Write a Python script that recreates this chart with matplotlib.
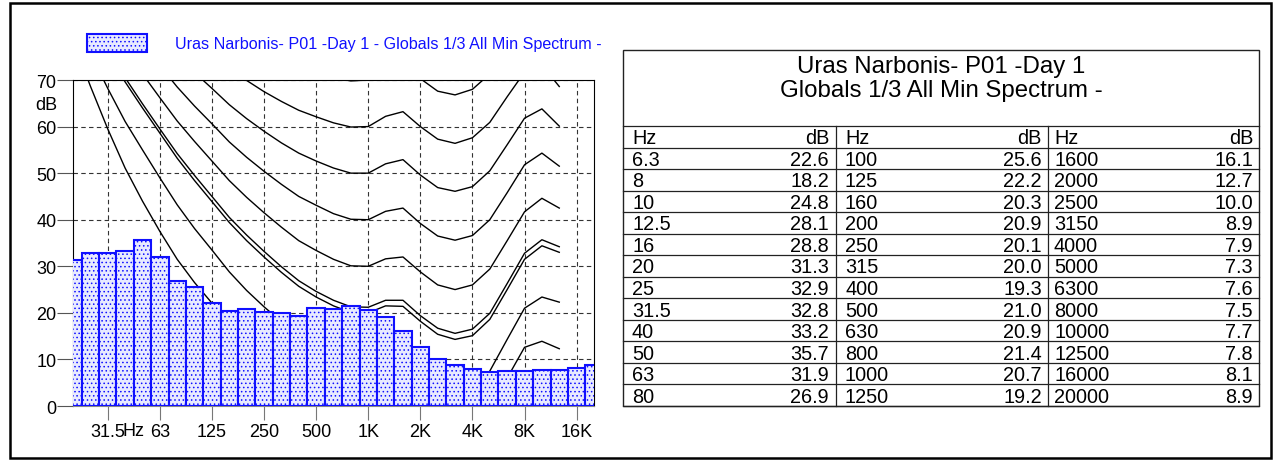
import matplotlib
matplotlib.use('Agg')
import matplotlib.pyplot as plt
from matplotlib.patches import Rectangle

plt.rcParams['font.family'] = ['Liberation Sans', 'DejaVu Sans']
plt.rcParams['hatch.linewidth'] = 0.6

W, H = 1277, 464

# 1/3 octave minimum spectrum
bands = ['6.3', '8', '10', '12.5', '16', '20', '25', '31.5', '40', '50', '63', '80',
         '100', '125', '160', '200', '250', '315', '400', '500', '630', '800', '1000', '1250',
         '1600', '2000', '2500', '3150', '4000', '5000', '6300', '8000', '10000', '12500', '16000', '20000']
levels = [22.6, 18.2, 24.8, 28.1, 28.8, 31.3, 32.9, 32.8, 33.2, 35.7, 31.9, 26.9,
          25.6, 22.2, 20.3, 20.9, 20.1, 20.0, 19.3, 21.0, 20.9, 21.4, 20.7, 19.2,
          16.1, 12.7, 10.0, 8.9, 7.9, 7.3, 7.6, 7.5, 7.7, 7.8, 8.1, 8.9]

# equal loudness contours, 20 Hz .. 12.5 kHz
threshold = [78.5, 68.7, 59.5, 51.1, 44.0, 37.5, 31.5, 26.5, 22.1, 17.9, 14.4, 11.4, 8.6, 6.2, 4.4,
             3.0, 2.2, 2.4, 3.5, 1.7, -1.3, -4.2, -6.0, -5.4, -1.5, 6.0, 12.6, 13.9, 12.3]
phon_10 = [83.8, 75.8, 68.2, 61.1, 55.0, 49.0, 43.2, 38.1, 33.5, 28.8, 24.8, 21.3, 18.1, 15.1, 13.0,
           11.2, 10.0, 10.0, 11.3, 10.4, 7.3, 4.5, 3.0, 3.8, 7.5, 14.3, 21.0, 23.4, 22.3]
phon_20 = [89.6, 82.7, 76.0, 69.6, 64.0, 58.6, 53.2, 48.4, 43.9, 39.4, 35.5, 32.0, 28.7, 25.7, 23.4,
           21.5, 20.1, 20.0, 21.5, 21.4, 18.2, 15.4, 14.3, 15.1, 18.6, 25.0, 31.5, 34.4, 33.0]
phon_spec = [90.2, 83.4, 76.8, 70.5, 64.9, 59.5, 54.2, 49.5, 45.0, 40.5, 36.7, 33.2, 29.9, 26.9, 24.6,
             22.7, 21.3, 21.2, 22.7, 22.7, 19.4, 16.7, 15.6, 16.5, 19.9, 26.3, 32.8, 35.7, 34.2]
phon_30 = [94.8, 88.5, 82.4, 76.5, 71.3, 66.2, 61.2, 56.8, 52.6, 48.4, 44.8, 41.5, 38.4, 35.5, 33.4,
           31.5, 30.1, 30.0, 31.6, 32.0, 28.8, 26.0, 25.0, 26.0, 29.4, 35.5, 41.7, 44.6, 42.5]
phon_40 = [99.9, 93.9, 88.2, 82.6, 77.8, 73.1, 68.5, 64.4, 60.6, 56.7, 53.4, 50.4, 47.6, 45.0, 43.1,
           41.3, 40.1, 40.0, 41.8, 42.5, 39.2, 36.5, 35.6, 36.6, 40.0, 45.8, 51.8, 54.3, 51.5]
phon_50 = [104.7, 99.1, 93.7, 88.5, 84.0, 79.6, 75.4, 71.6, 68.2, 64.7, 61.7, 59.0, 56.5, 54.3, 52.6,
           51.1, 50.0, 50.0, 52.0, 52.9, 49.6, 46.9, 46.1, 47.1, 50.5, 56.1, 61.8, 63.8, 60.1]
phon_60 = [109.5, 104.2, 99.1, 94.2, 90.0, 85.9, 82.1, 78.7, 75.6, 72.5, 69.9, 67.5, 65.4, 63.5, 62.1,
           60.8, 59.9, 60.0, 62.2, 63.2, 60.0, 57.3, 56.4, 57.6, 60.9, 66.4, 71.7, 73.2, 68.6]
phon_70 = [114.3, 109.2, 104.4, 99.8, 95.9, 92.2, 88.6, 85.6, 82.9, 80.2, 77.9, 75.9, 74.2, 72.6, 71.5,
           70.5, 69.8, 70.0, 72.3, 73.5, 70.3, 67.6, 66.8, 68.0, 71.3, 76.6, 81.5, 82.5, 77.0]
contours = [threshold, phon_10, phon_20, phon_spec, phon_30, phon_40, phon_50, phon_60, phon_70]

tick_bands = ['31.5', '63', '125', '250', '500', '1000', '2000', '4000', '8000', '16000']
tick_labels = ['31.5', '63', '125', '250', '500', '1K', '2K', '4K', '8K', '16K']

title = 'Uras Narbonis- P01 -Day 1'
subtitle = 'Globals 1/3 All Min Spectrum -'

bar_face = '#e8eaff'
bar_edge = '#1010ff'

fig = plt.figure(figsize=(W / 100, H / 100), dpi=100)

# spectrum chart, x in band index
ax = fig.add_axes([73 / W, 1 - 407 / H, (594 - 73) / W, (407 - 81) / H])
x = list(range(len(bands)))
ax.bar(x, levels, width=1.0, facecolor=bar_face, edgecolor=bar_edge,
       linewidth=1.5, hatch='....', zorder=3)
first = bands.index('20')
xc = list(range(first, first + len(threshold)))
for c in contours:
    ax.plot(xc, c, color='black', lw=1.0, zorder=2)
ax.set_xlim(bands.index('20'), bands.index('20000'))
ax.set_ylim(0, 70)
ax.set_axisbelow(True)
ax.grid(True, ls=(0, (4, 3)), color='#333333', lw=0.8)
ax.set_xticks([bands.index(b) for b in tick_bands])
ax.set_xticklabels(tick_labels)
ax.set_yticks(range(0, 71, 10))
ax.tick_params(axis='x', length=10, color='#777777', pad=2, labelsize=13)
ax.tick_params(axis='y', length=11.5, color='#555555', pad=0.5, labelsize=13)
ax.spines['bottom'].set_color('#888888')

# overlay in pixel units: frame, legend, axis labels, table
tax = fig.add_axes([0, 0, 1, 1])
tax.axis('off')
tax.set_xlim(0, W)
tax.set_ylim(H, 0)
tax.add_patch(Rectangle((9.5, 3.5), 1261, 455, fill=False, lw=1.8, ec='black'))
tax.text(133, 432, 'Hz', ha='center', va='center', fontsize=13)
tax.text(57, 106, 'dB', ha='right', va='center', fontsize=13)
tax.add_patch(Rectangle((87, 35), 60, 18, facecolor=bar_face, edgecolor=bar_edge, lw=1.5, hatch='....'))
tax.text(175, 48.5, title + ' - ' + subtitle, color=bar_edge, fontsize=11.6, va='baseline')

tax.add_patch(Rectangle((623, 51), 636, 356, fill=False, lw=1.0, ec='#222222'))
tax.text(941, 67, title, ha='center', va='center', fontsize=17.3)
tax.text(941, 91, subtitle, ha='center', va='center', fontsize=17.3)
top, rh = 127, (407 - 127) / 13
tax.plot([623, 1259], [top, top], color='#222222', lw=0.9)
for i in range(13):
    yl = top + rh * (i + 1)
    tax.plot([623, 1259], [yl, yl], color='#222222', lw=0.9)
for xs in (836, 1048):
    tax.plot([xs, xs], [top, 407], color='#222222', lw=0.9)
hz_x = [632, 845, 1054]
db_x = [829, 1042, 1253]
for c in range(3):
    yc = top + rh / 2 + 1
    tax.text(hz_x[c], yc, 'Hz', va='center', fontsize=14.3)
    tax.text(db_x[c], yc, 'dB', va='center', ha='right', fontsize=14.3)
    for r in range(12):
        k = c * 12 + r
        yc = top + rh * (r + 1.5) + 1
        tax.text(hz_x[c], yc, bands[k], va='center', fontsize=14.3)
        tax.text(db_x[c], yc, f'{levels[k]:.1f}', va='center', ha='right', fontsize=14.3)

fig.savefig('out.png', dpi=100)
